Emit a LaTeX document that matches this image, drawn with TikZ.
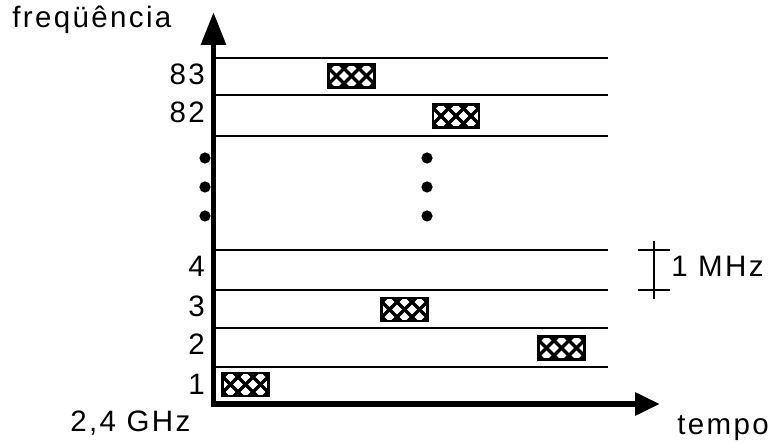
\documentclass[tikz,border=0pt]{standalone}
\usepackage{fontspec}
\setmainfont{Liberation Sans}
\newfontfamily\axisfont[LetterSpace=8]{Liberation Sans}
\usetikzlibrary{arrows.meta, positioning}

\begin{document}
\begin{tikzpicture}[
    x=0.025cm, y=-0.025cm,
    axis/.style={line width=4.2pt, line join=miter},
    channel/.style={line width=2.1pt},
    txt/.style={font=\axisfont\fontsize{21}{24}\selectfont, inner sep=0pt},
    hop/.style={rectangle, draw, line width=1.5pt, fill=white, minimum width=1.15cm, minimum height=0.575cm, inner sep=0pt,
        path picture={
            \begin{scope}[shift={(path picture bounding box.center)}]
            \foreach \k in {-3,...,3} {
                \draw[line width=2.4pt] (15*\k-20,-20) -- (15*\k+20,20);
                \draw[line width=2.4pt] (15*\k-20,20) -- (15*\k+20,-20);
            }
            \end{scope}}},
    dot/.style={circle, fill, minimum size=0.28cm, inner sep=0pt}
]
\useasboundingbox (0,0) rectangle (770,444);

% Channels
\foreach \y in {58,95,136,250,290,328,367} {
    \draw[channel] (213.5,\y) -- (608,\y);
}

% Axes
\coordinate (origin) at (213.5,404);
\coordinate (ytip) at (213.5,12);
\coordinate (xtip) at (660,404);
\draw[axis, {Triangle[length=17.7pt,width=15.6pt]}-{Triangle[length=23.4pt,width=17pt]}] (xtip) -- (origin) -- (ytip);

% Axis labels
\node[txt, anchor=base west] (freq) at (12,28) {freqüência};
\node[txt, anchor=base west] (tempo) at (677,435) {tempo};
\node[txt, anchor=base west] (ghz) at (70,432) {2,4 GHz};

% Channel numbers
\node[txt, anchor=base east] (n83) at (205,85) {83};
\node[txt, anchor=base east] (n82) at (205,123) {82};
\node[txt, anchor=base east] (n4) at (205,277) {4};
\node[txt, anchor=base east] (n3) at (205,317) {3};
\node[txt, anchor=base east] (n2) at (205,355) {2};
\node[txt, anchor=base east] (n1) at (205,395) {1};

% Dots
\foreach \y [count=\i] in {158,187,216} {
    \node[dot] (ldot\i) at (205,\y) {};
    \node[dot] (mdot\i) at (427,\y) {};
}

% Hops
\node[hop] (h1) at (245.5,384.5) {};
\node[hop] (h83) at (351.5,76) {};
\node[hop] (h3) at (404.5,309.5) {};
\node[hop] (h82) at (456,116) {};
\node[hop] (h2) at (561.5,348) {};

% Channel width
\coordinate (mtop) at (654,241);
\coordinate (mbot) at (654,299);
\draw[channel] (mtop) -- (mbot);
\draw[channel] (638,250) -- (670,250);
\draw[channel] (638,290) -- (670,290);
\node[txt, anchor=base west] (mhz) at (671,277) {1 MHz};
\end{tikzpicture}
\end{document}
